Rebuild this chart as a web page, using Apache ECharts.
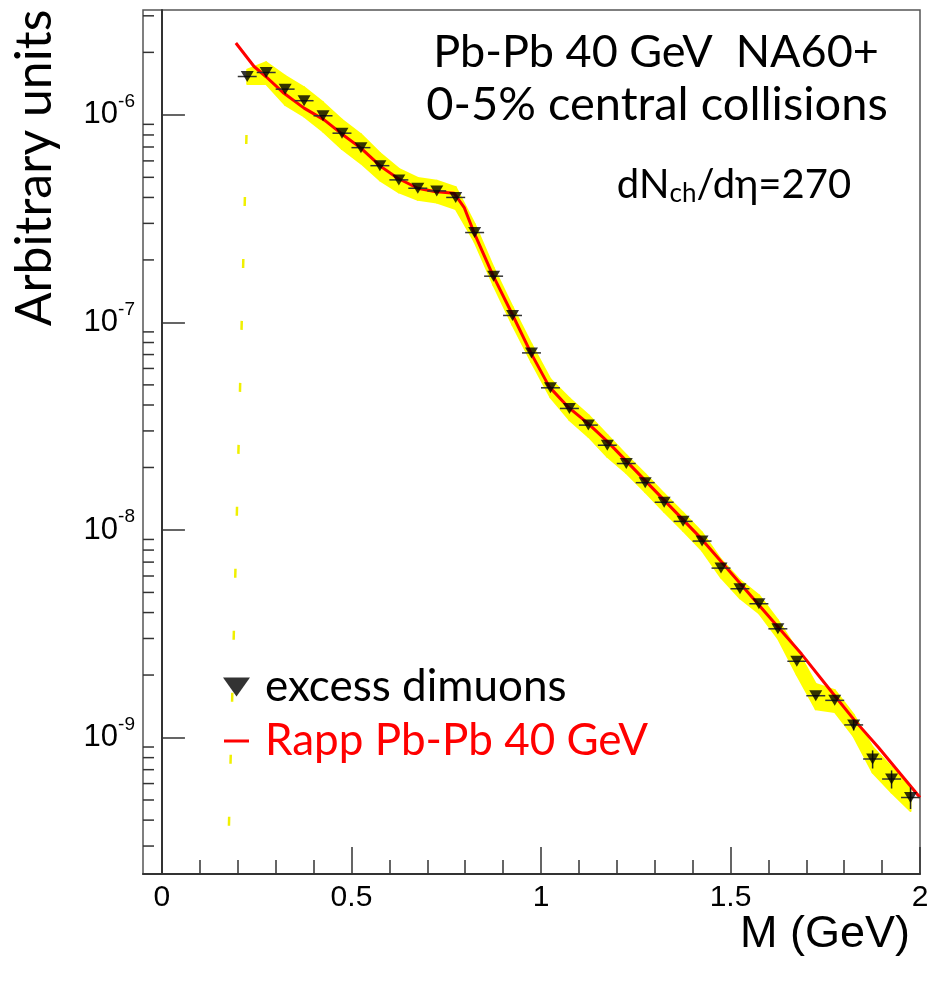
<!DOCTYPE html>
<html>
<head>
<meta charset="utf-8">
<script src="https://cdn.jsdelivr.net/npm/echarts@6/dist/echarts.min.js"></script>
<style>
  html, body { margin: 0; padding: 0; background: #fff; }
  #chart { width: 931px; height: 990px; }
</style>
</head>
<body>
<div id="chart"></div>
<script>
// excess dimuons, bin centres (GeV), 0.05 GeV bins
const massBins = [
  0.225, 0.275, 0.325, 0.375, 0.425, 0.475, 0.525, 0.575, 0.625, 0.675, 0.725, 0.775,
  0.825, 0.875, 0.925, 0.975, 1.025, 1.075, 1.125, 1.175, 1.225, 1.275, 1.325, 1.375,
  1.425, 1.475, 1.525, 1.575, 1.625, 1.675, 1.725, 1.775, 1.825, 1.875, 1.925, 1.975
]
const excessYield = [
  1.53e-6, 1.60e-6, 1.33e-6, 1.17e-6, 9.9e-7, 8.16e-7, 6.95e-7, 5.69e-7, 4.86e-7, 4.43e-7, 4.30e-7, 4.00e-7,
  2.71e-7, 1.67e-7, 1.08e-7, 7.13e-8, 4.84e-8, 3.85e-8, 3.20e-8, 2.56e-8, 2.09e-8, 1.69e-8, 1.36e-8, 1.10e-8,
  8.84e-9, 6.55e-9, 5.21e-9, 4.41e-9, 3.34e-9, 2.33e-9, 1.59e-9, 1.51e-9, 1.15e-9, 7.88e-10, 6.31e-10, 5.14e-10
]
// relative systematic error (yellow band)
const sysErr = [
  0.08, 0.12, 0.16, 0.16, 0.16, 0.16, 0.16, 0.15, 0.13, 0.12, 0.12, 0.12,
  0.10, 0.10, 0.10, 0.10, 0.10, 0.12, 0.12, 0.12, 0.10, 0.10, 0.10, 0.10,
  0.10, 0.10, 0.10, 0.10, 0.10, 0.14, 0.14, 0.12, 0.12, 0.14, 0.14, 0.14
]
// relative statistical error (vertical bars)
const statErr = [
  0, 0, 0, 0, 0, 0, 0, 0, 0, 0, 0, 0,
  0, 0, 0, 0, 0, 0, 0, 0, 0, 0, 0, 0,
  0, 0, 0, 0, 0, 0, 0, 0, 0.06, 0.10, 0.10, 0.12
]
const binHalfWidth = 0.025

// Rapp model curve
const rappMass = [
  0.195, 0.243, 0.274, 0.322, 0.375, 0.428, 0.472, 0.525, 0.578, 0.622, 0.675, 0.719, 0.771, 0.798,
  0.824, 0.873, 0.921, 0.974, 1.022, 1.071, 1.124, 1.177, 1.423, 1.626, 1.687, 1.775, 1.828, 1.890, 2.0
]
const rappYield = [
  2.22e-6, 1.71e-6, 1.53e-6, 1.27e-6, 1.077e-6, 9.46e-7, 8.16e-7, 6.91e-7, 5.63e-7, 4.95e-7, 4.43e-7, 4.27e-7, 4.19e-7, 3.56e-7,
  2.69e-7, 1.69e-7, 1.125e-7, 7.09e-8, 4.89e-8, 3.92e-8, 3.26e-8, 2.65e-8, 9.08e-9, 3.40e-9, 2.53e-9, 1.59e-9, 1.206e-9, 8.97e-10, 5.14e-10
]

// faint yellow dashed guide near the low-mass edge
const guideMass = [0.223, 0.1735]
const guideYield = [8.0e-7, 2.2e-10]

// axes
const xMajorTicks = [0, 0.5, 1, 1.5, 2]
const xMinorTicks = [0.1, 0.2, 0.3, 0.4, 0.6, 0.7, 0.8, 0.9, 1.1, 1.2, 1.3, 1.4, 1.6, 1.7, 1.8, 1.9]
const yMinorTicks = [
  3e-10, 4e-10, 5e-10, 6e-10, 7e-10, 8e-10, 9e-10,
  2e-9, 3e-9, 4e-9, 5e-9, 6e-9, 7e-9, 8e-9, 9e-9,
  2e-8, 3e-8, 4e-8, 5e-8, 6e-8, 7e-8, 8e-8, 9e-8,
  2e-7, 3e-7, 4e-7, 5e-7, 6e-7, 7e-7, 8e-7, 9e-7,
  2e-6, 3e-6
]
const X_MIN = -0.05
const X_MAX = 2
const Y_MIN = 2.2e-10
const Y_MAX = 3.2e-6

const chart = echarts.init(document.getElementById('chart'))

const axisColor = '#333'
const labelFont = 'Liberation Sans'
const slideFont = 'Lato'

const option = {
  animation: false,
  textStyle: { fontFamily: labelFont },
  grid: {
    left: 143, right: 11, top: 10, bottom: 116,
    show: true, borderColor: '#555', borderWidth: 1.5,
    containLabel: false, outerBoundsMode: 'none'
  },
  legend: {
    orient: 'vertical',
    left: 218,
    top: 660,
    padding: 5,
    itemWidth: 27,
    itemHeight: 19,
    itemGap: 10,
    selectedMode: false,
    textStyle: { fontFamily: slideFont, fontSize: 44, lineHeight: 44, color: '#000', padding: [0, 0, 0, 10] },
    data: [
      { name: 'excess dimuons', icon: 'path://M0,0L10,0L5,7Z' },
      { name: 'Rapp Pb-Pb 40 GeV', icon: 'path://M0,0L0,0M0,8L25,8L25,11L0,11ZM25,19L25,19', textStyle: { color: '#ff0000' } }
    ]
  },
  xAxis: [
    {
      type: 'value',
      position: 'bottom',
      min: X_MIN,
      max: X_MAX,
      splitLine: { show: false },
      axisLine: { lineStyle: { color: axisColor, width: 2 } },
      axisTick: { inside: true, length: 27, customValues: xMajorTicks, lineStyle: { color: axisColor, width: 1.5 } },
      axisLabel: {
        customValues: xMajorTicks,
        margin: 9,
        fontSize: 30,
        fontFamily: labelFont,
        color: '#000',
        formatter: v => String(v)
      },
      name: 'M (GeV)',
      nameLocation: 'end',
      nameGap: -10,
      nameMoveOverlap: false,
      nameTextStyle: {
        fontSize: 45, fontFamily: labelFont, color: '#000', lineHeight: 45,
        align: 'right', verticalAlign: 'top', padding: [38, 0, 0, 0]
      }
    },
    {
      // minor ticks
      type: 'value',
      position: 'bottom',
      min: X_MIN,
      max: X_MAX,
      splitLine: { show: false },
      axisLine: { show: false },
      axisLabel: { show: false },
      axisTick: { inside: true, length: 14, customValues: xMinorTicks, lineStyle: { color: axisColor, width: 1.5 } }
    }
  ],
  yAxis: {
    type: 'log',
    logBase: 10,
    position: 'left',
    min: Y_MIN,
    max: Y_MAX,
    splitLine: { show: false },
    minorTick: { show: false },
    axisLine: { lineStyle: { color: axisColor, width: 2 } },
    axisTick: { inside: true, length: 23, lineStyle: { color: axisColor, width: 1.5 } },
    axisLabel: {
      margin: 8,
      showMinLabel: false,
      showMaxLabel: false,
      formatter: v => {
        const l = Math.log10(v)
        const e = Math.round(l)
        if (Math.abs(l - e) > 1e-6) return ''
        return '{b|10}{s|' + e + '}'
      },
      rich: {
        b: { fontSize: 31, lineHeight: 31, fontFamily: labelFont, color: '#000' },
        s: { fontSize: 19, lineHeight: 19, fontFamily: labelFont, color: '#000', padding: [0, 0, 26, 0] }
      }
    }
  },
  graphic: [
    {
      type: 'text', x: 656, y: 52, z: 10,
      style: { text: 'Pb-Pb 40 GeV  NA60+', fontSize: 45, fontFamily: slideFont, fill: '#000', align: 'center', verticalAlign: 'middle' }
    },
    {
      type: 'text', x: 657, y: 105, z: 10,
      style: { text: '0-5% central collisions', fontSize: 47, fontFamily: slideFont, fill: '#000', align: 'center', verticalAlign: 'middle' }
    },
    {
      type: 'text', x: 734, y: 185, z: 10,
      style: {
        text: '{m|dN}{s|ch}{m|/dη=270}',
        align: 'center', verticalAlign: 'middle',
        rich: {
          m: { fontSize: 40, fontFamily: slideFont, fill: '#000' },
          s: { fontSize: 26, fontFamily: slideFont, fill: '#000', padding: [18, 0, 0, 0] }
        }
      }
    },
    {
      type: 'text', x: 35, y: 168, rotation: Math.PI / 2, z: 10,
      style: { text: 'Arbitrary units', fontSize: 50, fontFamily: slideFont, fill: '#000', align: 'center', verticalAlign: 'middle' }
    }
  ],
  series: [
    {
      // yellow band
      type: 'custom',
      silent: true,
      z: 1,
      data: massBins.map((m, i) => [m, excessYield[i] * (1 - sysErr[i]), excessYield[i] * (1 + sysErr[i])]),
      renderItem: (params, api) => {
        const j = params.dataIndexInside
        if (j >= params.dataInsideLength - 1) return { type: 'group', children: [] }
        const x0 = api.value(0), lo0 = api.value(1), hi0 = api.value(2)
        const x1 = api.value(0, j + 1), lo1 = api.value(1, j + 1), hi1 = api.value(2, j + 1)
        return {
          type: 'polygon',
          shape: { points: [api.coord([x0, hi0]), api.coord([x1, hi1]), api.coord([x1, lo1]), api.coord([x0, lo0])] },
          style: { fill: '#ffff00', stroke: '#ffff00', lineWidth: 2, lineJoin: 'round' }
        }
      }
    },
    {
      type: 'line',
      silent: true,
      z: 1,
      symbol: 'none',
      data: guideMass.map((m, i) => [m, guideYield[i]]),
      lineStyle: { color: '#f0f000', width: 2.5, type: [9, 53] }
    },
    {
      name: 'Rapp Pb-Pb 40 GeV',
      type: 'line',
      z: 3,
      symbol: 'none',
      color: '#ff0000',
      data: rappMass.map((m, i) => [m, rappYield[i]]),
      lineStyle: { color: '#ff0000', width: 3, join: 'round' }
    },
    {
      // error bars
      type: 'custom',
      silent: true,
      z: 4,
      data: massBins.map((m, i) => [m, excessYield[i], excessYield[i] * (1 - statErr[i]), excessYield[i] * (1 + statErr[i])]),
      renderItem: (params, api) => {
        const x = api.value(0), y = api.value(1)
        const a = api.coord([x - binHalfWidth, y])
        const b = api.coord([x + binHalfWidth, y])
        const children = [{
          type: 'line',
          shape: { x1: a[0], y1: a[1], x2: b[0], y2: b[1] },
          style: { stroke: '#333', lineWidth: 1.5 }
        }]
        if (api.value(3) > api.value(2)) {
          const lo = api.coord([x, api.value(2)])
          const hi = api.coord([x, api.value(3)])
          children.push({
            type: 'line',
            shape: { x1: lo[0], y1: lo[1], x2: hi[0], y2: hi[1] },
            style: { stroke: '#222', lineWidth: 1.5 }
          })
        }
        return { type: 'group', children }
      }
    },
    {
      name: 'excess dimuons',
      type: 'scatter',
      z: 5,
      symbol: 'triangle',
      symbolRotate: 180,
      symbolSize: [13, 11],
      color: '#000',
      itemStyle: { color: '#000' },
      data: massBins.map((m, i) => [m, excessYield[i]])
    },
    {
      // minor ticks of the log axis
      type: 'custom',
      silent: true,
      z: 6,
      clip: false,
      data: yMinorTicks.map(v => [X_MIN, v]),
      renderItem: (params, api) => {
        const p = api.coord([api.value(0), api.value(1)])
        return {
          type: 'line',
          shape: { x1: p[0], y1: p[1], x2: p[0] + 11, y2: p[1] },
          style: { stroke: axisColor, lineWidth: 1.5 }
        }
      }
    }
  ]
}

chart.setOption(option)
</script>
</body>
</html>
